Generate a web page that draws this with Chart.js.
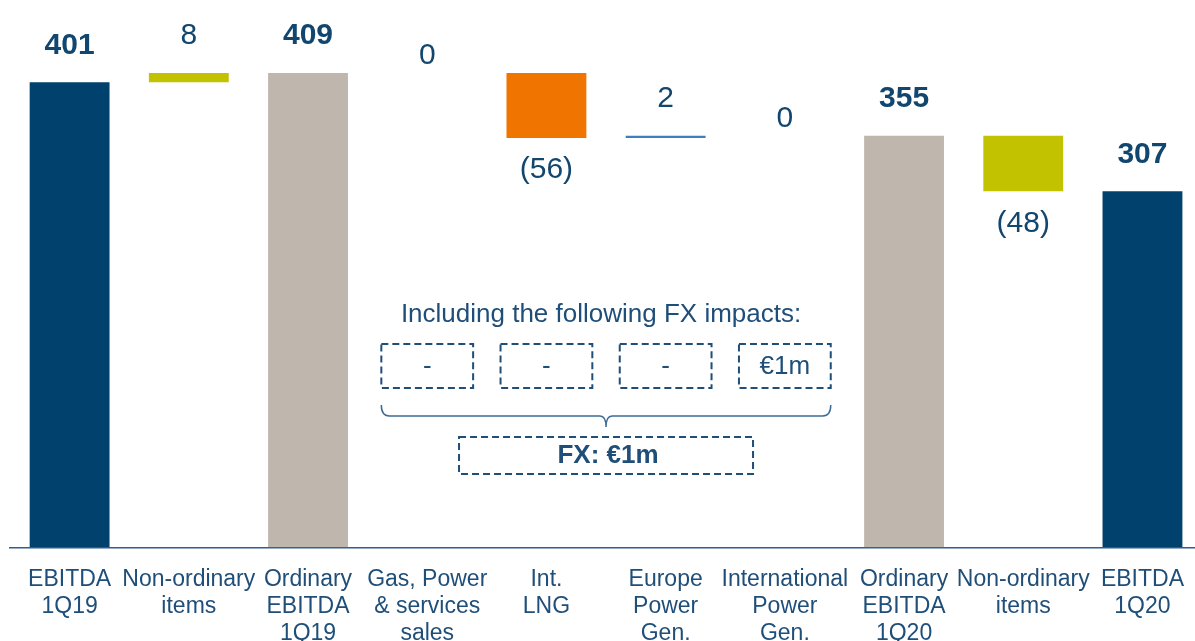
<!DOCTYPE html>
<html>
<head>
<meta charset="utf-8">
<script src="https://cdn.jsdelivr.net/npm/chart.js@4.4.0/dist/chart.umd.min.js"></script>
<style>
  html, body { margin: 0; padding: 0; overflow: hidden; background: #fff; }
  canvas { display: block; }
</style>
</head>
<body>
<canvas id="waterfall" width="1203" height="666"></canvas>
<script>
// EBITDA bridge 1Q19 -> 1Q20 (€m)
const categories = [
    ['EBITDA', '1Q19'],
    ['Non-ordinary', 'items'],
    ['Ordinary', 'EBITDA', '1Q19'],
    ['Gas, Power', '& services', 'sales'],
    ['Int.', 'LNG'],
    ['Europe', 'Power', 'Gen.'],
    ['International', 'Power', 'Gen.'],
    ['Ordinary', 'EBITDA', '1Q20'],
    ['Non-ordinary', 'items'],
    ['EBITDA', '1Q20']
];
const values = [401, 8, 409, 0, -56, 2, 0, 355, -48, 307];
const isTotal = [true, false, true, false, false, false, false, true, false, true];
const fxImpacts = ['-', '-', '-', '€1m'];   // for Gas/Power, Int. LNG, Europe, International
const fxFirstIndex = 3;
const fxTitle = 'Including the following FX impacts:';
const fxTotal = 'FX: €1m';

const barColors = ['#00426d', '#c2c200', '#bfb7ad', '#bfb7ad', '#ef7400', '#3b7fc0', '#bfb7ad', '#bfb7ad', '#c2c200', '#00426d'];
const textColor = '#1f4e79';
const valueColor = '#11466f';
const fontFamily = "'Liberation Sans', Arial, sans-serif";

// floating ranges for the waterfall
let running = 0;
const ranges = values.map((v, i) => {
    if (isTotal[i]) {
        running = v;
        return [0, v];
    }
    const start = running;
    running += v;
    return [Math.min(start, running), Math.max(start, running)];
});

function labelText(i) {
    const v = values[i];
    if (v < 0) return '(' + Math.abs(v) + ')';
    return String(v);
}

const valueLabels = {
    id: 'valueLabels',
    afterDatasetsDraw(chart) {
        const ctx = chart.ctx;
        const meta = chart.getDatasetMeta(0);
        ctx.save();
        ctx.fillStyle = valueColor;
        ctx.textAlign = 'center';
        ctx.textBaseline = 'middle';
        meta.data.forEach((bar, i) => {
            const top = Math.min(bar.y, bar.base);
            const bottom = Math.max(bar.y, bar.base);
            ctx.font = (isTotal[i] ? 'bold ' : '') + '30px ' + fontFamily;
            let y;
            if (values[i] < 0) y = bottom + 32;
            else if (values[i] === 0) y = top - 17;
            else y = top - 37;
            ctx.fillText(labelText(i), bar.x, y);
        });
        ctx.restore();
    }
};

const fxNotes = {
    id: 'fxNotes',
    afterDraw(chart) {
        const ctx = chart.ctx;
        const xs = chart.scales.x;
        const step = xs.getPixelForValue(1) - xs.getPixelForValue(0);
        const boxW = step * 0.77;
        const first = xs.getPixelForValue(fxFirstIndex) - boxW / 2;
        const last = xs.getPixelForValue(fxFirstIndex + fxImpacts.length - 1) + boxW / 2;
        const mid = (first + last) / 2;

        ctx.save();
        ctx.fillStyle = textColor;
        ctx.textAlign = 'center';
        ctx.textBaseline = 'middle';
        ctx.font = '26px ' + fontFamily;
        ctx.fillText(fxTitle, mid - 5, 315);

        ctx.strokeStyle = textColor;
        ctx.lineWidth = 2;
        ctx.setLineDash([7, 4]);
        fxImpacts.forEach((t, k) => {
            const cx = xs.getPixelForValue(fxFirstIndex + k);
            ctx.strokeRect(cx - boxW / 2, 344, boxW, 44);
            ctx.fillText(t, cx, 367);
        });

        // brace
        ctx.setLineDash([]);
        ctx.lineWidth = 1.5;
        ctx.strokeStyle = '#3d6b95';
        ctx.beginPath();
        ctx.moveTo(first, 405);
        ctx.quadraticCurveTo(first, 416, first + 8, 416);
        ctx.lineTo(mid - 6, 416);
        ctx.quadraticCurveTo(mid, 416, mid, 427);
        ctx.quadraticCurveTo(mid, 416, mid + 6, 416);
        ctx.lineTo(last - 8, 416);
        ctx.quadraticCurveTo(last, 416, last, 405);
        ctx.stroke();

        // total box
        ctx.strokeStyle = textColor;
        ctx.lineWidth = 2;
        ctx.setLineDash([7, 4]);
        ctx.strokeRect(mid - 147, 437, 294, 37);
        ctx.font = 'bold 26px ' + fontFamily;
        ctx.fillText(fxTotal, mid + 2, 456);
        ctx.restore();
    }
};

const ctx = document.getElementById('waterfall');
new Chart(ctx, {
    type: 'bar',
    data: {
        labels: categories,
        datasets: [{
            data: ranges,
            backgroundColor: barColors,
            borderWidth: 0,
            categoryPercentage: 1,
            barPercentage: 0.67
        }]
    },
    options: {
        responsive: false,
        animation: false,
        layout: { padding: { left: 10, right: 0, top: 0, bottom: 0 } },
        plugins: {
            legend: { display: false },
            tooltip: { enabled: false }
        },
        scales: {
            x: {
                grid: { display: false, drawTicks: false },
                border: { color: '#2f5f8c', width: 1.5 },
                ticks: {
                    color: textColor,
                    font: { family: fontFamily, size: 23, lineHeight: 1.17 },
                    padding: 19,
                    maxRotation: 0,
                    autoSkip: false
                }
            },
            y: { display: false, min: 0, max: 472 }
        }
    },
    plugins: [valueLabels, fxNotes]
});
</script>
</body>
</html>
